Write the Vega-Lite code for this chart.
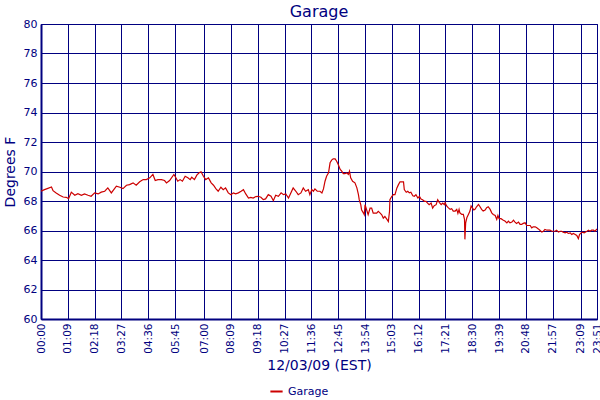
{
  "$schema": "https://vega.github.io/schema/vega-lite/v6.json",
  "autosize": "none",
  "padding": {"left": 41, "top": 24, "right": 3, "bottom": 81},
  "width": 556,
  "height": 295,
  "title": {"text": "Garage", "fontSize": 16, "font": "DejaVu Sans", "fontWeight": "normal", "color": "#000080", "offset": -2},
  "data": {"values": [
    {"m":0,"t":68.66},{"m":9,"t":68.77},{"m":16,"t":68.84},{"m":27,"t":68.95},{"m":31,"t":68.7},{"m":39,"t":68.55},{"m":48,"t":68.39},{"m":57,"t":68.27},{"m":65,"t":68.25},{"m":71,"t":68.16},{"m":78,"t":68.6},{"m":87,"t":68.39},{"m":95,"t":68.5},{"m":104,"t":68.39},{"m":112,"t":68.48},{"m":121,"t":68.39},{"m":129,"t":68.32},{"m":138,"t":68.55},{"m":147,"t":68.48},{"m":155,"t":68.6},{"m":164,"t":68.66},{"m":172,"t":68.89},{"m":181,"t":68.55},{"m":194,"t":69.0},{"m":203,"t":68.93},{"m":211,"t":68.84},{"m":220,"t":69.07},{"m":228,"t":69.11},{"m":237,"t":69.23},{"m":245,"t":69.07},{"m":254,"t":69.3},{"m":263,"t":69.45},{"m":271,"t":69.45},{"m":280,"t":69.57},{"m":288,"t":69.8},{"m":294,"t":69.39},{"m":301,"t":69.45},{"m":310,"t":69.45},{"m":318,"t":69.39},{"m":323,"t":69.23},{"m":331,"t":69.39},{"m":342,"t":69.8},
    {"m":345,"t":69.68},{"m":352,"t":69.34},{"m":358,"t":69.45},{"m":364,"t":69.34},{"m":371,"t":69.68},{"m":378,"t":69.57},{"m":384,"t":69.45},{"m":388,"t":69.61},{"m":395,"t":69.45},{"m":401,"t":69.75},{"m":407,"t":69.91},{"m":412,"t":69.98},{"m":418,"t":69.68},{"m":424,"t":69.45},{"m":431,"t":69.57},{"m":438,"t":69.23},{"m":444,"t":69.07},{"m":450,"t":68.84},{"m":456,"t":68.66},{"m":463,"t":68.93},{"m":469,"t":68.77},{"m":475,"t":68.89},{"m":482,"t":68.55},{"m":489,"t":68.43},{"m":495,"t":68.55},{"m":501,"t":68.48},{"m":508,"t":68.55},{"m":515,"t":68.66},{"m":521,"t":68.77},{"m":527,"t":68.48},{"m":534,"t":68.2},{"m":540,"t":68.25},{"m":546,"t":68.2},{"m":553,"t":68.3},{"m":559,"t":68.32},{"m":566,"t":68.25},{"m":572,"t":68.09},{"m":578,"t":68.14},{"m":585,"t":68.43},{"m":592,"t":68.32},{"m":598,"t":68.02},{"m":604,"t":68.39},{"m":611,"t":68.32},{"m":618,"t":68.55},{"m":624,"t":68.43},{"m":630,"t":68.48},{"m":637,"t":68.2},{"m":643,"t":68.55},{"m":649,"t":68.89},{"m":656,"t":68.66},{"m":662,"t":68.43},{"m":669,"t":68.55},{"m":675,"t":68.89},{"m":681,"t":68.66},{"m":688,"t":68.77},
    {"m":692,"t":68.43},{"m":697,"t":68.77},{"m":701,"t":68.66},{"m":705,"t":68.82},{"m":711,"t":68.66},{"m":718,"t":68.66},{"m":723,"t":68.55},{"m":727,"t":68.82},{"m":731,"t":69.34},{"m":735,"t":69.68},{"m":740,"t":69.91},{"m":744,"t":70.59},{"m":748,"t":70.77},{"m":752,"t":70.86},{"m":757,"t":70.86},{"m":761,"t":70.7},{"m":765,"t":70.48},{"m":770,"t":70.14},{"m":774,"t":70.02},{"m":778,"t":69.86},{"m":782,"t":69.86},{"m":787,"t":69.91},{"m":791,"t":69.8},{"m":794,"t":70.02},{"m":797,"t":69.57},{"m":802,"t":69.34},{"m":808,"t":69.23},{"m":813,"t":68.89},{"m":817,"t":68.43},{"m":819,"t":68.09},{"m":823,"t":67.75},{"m":825,"t":67.41},{"m":830,"t":67.18},{"m":832,"t":67.07},{"m":834,"t":67.75},{"m":838,"t":67.41},{"m":842,"t":67.07},{"m":847,"t":67.52},{"m":851,"t":67.52},{"m":855,"t":67.18},{"m":860,"t":67.18},{"m":864,"t":67.18},{"m":868,"t":67.3},{"m":873,"t":67.18},{"m":877,"t":67.07},{"m":881,"t":66.84},{"m":885,"t":66.95},{"m":890,"t":66.77},{"m":894,"t":66.61},{"m":897,"t":67.3},{"m":898,"t":68.09},{"m":903,"t":68.32},{"m":907,"t":68.43},{"m":911,"t":68.43},{"m":916,"t":68.89},{"m":920,"t":69.11},{"m":924,"t":69.3},{"m":928,"t":69.3},{"m":933,"t":69.3},{"m":935,"t":68.77},{"m":940,"t":68.59},{"m":944,"t":68.66},{"m":948,"t":68.55},{"m":952,"t":68.59},{"m":957,"t":68.36},{"m":961,"t":68.32},{"m":965,"t":68.43},{"m":970,"t":68.2},{"m":974,"t":68.32},{"m":978,"t":68.14},{"m":982,"t":68.09},{"m":987,"t":67.98},{"m":991,"t":67.98},{"m":995,"t":67.86},{"m":999,"t":67.75},{"m":1004,"t":67.86},{"m":1008,"t":67.52},{"m":1012,"t":67.68},{"m":1017,"t":67.75},{"m":1021,"t":68.09},{"m":1025,"t":67.91},{"m":1030,"t":67.75},{"m":1034,"t":67.86},{"m":1038,"t":67.75},
    {"m":1040,"t":67.89},{"m":1044,"t":67.66},{"m":1048,"t":67.55},{"m":1053,"t":67.43},{"m":1057,"t":67.48},{"m":1061,"t":67.32},{"m":1066,"t":67.32},{"m":1070,"t":67.43},{"m":1073,"t":67.16},{"m":1076,"t":67.43},{"m":1078,"t":67.2},{"m":1083,"t":67.09},{"m":1087,"t":67.09},{"m":1090,"t":66.75},{"m":1091,"t":65.4},{"m":1093,"t":66.52},{"m":1096,"t":66.86},{"m":1100,"t":67.09},{"m":1104,"t":67.32},{"m":1107,"t":67.66},{"m":1110,"t":67.55},{"m":1114,"t":67.39},{"m":1117,"t":67.43},{"m":1121,"t":67.61},{"m":1126,"t":67.77},{"m":1130,"t":67.61},{"m":1134,"t":67.43},{"m":1138,"t":67.32},{"m":1143,"t":67.39},{"m":1147,"t":67.55},{"m":1151,"t":67.61},{"m":1156,"t":67.43},{"m":1160,"t":67.2},{"m":1164,"t":67.09},{"m":1169,"t":67.02},{"m":1173,"t":66.75},{"m":1176,"t":67.02},{"m":1179,"t":66.8},{"m":1184,"t":66.8},{"m":1190,"t":66.7},{"m":1194,"t":66.64},{"m":1199,"t":66.52},{"m":1203,"t":66.64},{"m":1207,"t":66.52},{"m":1212,"t":66.57},{"m":1216,"t":66.7},{"m":1220,"t":66.57},{"m":1224,"t":66.48},{"m":1229,"t":66.57},{"m":1233,"t":66.41},{"m":1237,"t":66.41},{"m":1241,"t":66.48},{"m":1246,"t":66.52},{"m":1250,"t":66.34},{"m":1254,"t":66.34},{"m":1259,"t":66.34},{"m":1263,"t":66.18},{"m":1267,"t":66.25},{"m":1272,"t":66.25},{"m":1276,"t":66.18},{"m":1280,"t":66.11},{"m":1284,"t":66.02},{"m":1289,"t":65.89},{"m":1293,"t":65.95},{"m":1297,"t":66.07},{"m":1302,"t":66.02},{"m":1306,"t":66.02},{"m":1310,"t":66.02},{"m":1315,"t":65.95},{"m":1319,"t":65.95},{"m":1323,"t":65.95},{"m":1327,"t":66.02},{"m":1332,"t":65.89},{"m":1336,"t":65.95},{"m":1340,"t":65.95},{"m":1344,"t":65.89},{"m":1349,"t":65.84},{"m":1353,"t":65.89},{"m":1357,"t":65.8},{"m":1362,"t":65.84},{"m":1366,"t":65.73},{"m":1370,"t":65.8},{"m":1375,"t":65.73},{"m":1379,"t":65.66},{"m":1383,"t":65.45},{"m":1386,"t":65.73},{"m":1390,"t":65.84},{"m":1393,"t":65.89},{"m":1398,"t":65.84},{"m":1405,"t":65.95},{"m":1409,"t":66.02},{"m":1413,"t":65.95},{"m":1417,"t":66.02},{"m":1422,"t":66.02},{"m":1426,"t":65.95},{"m":1431,"t":66.11}
  ]},
  "mark": {"type": "line", "strokeWidth": 1.2, "clip": true},
  "encoding": {
    "x": {
      "field": "m",
      "type": "quantitative",
      "scale": {"domain": [0, 1431], "nice": false, "zero": false},
      "axis": {
        "values": [0, 69, 138, 207, 276, 345, 420, 489, 558, 627, 696, 765, 834, 903, 972, 1041, 1110, 1179, 1248, 1317, 1389, 1431],
        "labelExpr": "pad(floor(datum.value / 60) + '', 2, '0', 'left') + ':' + pad((datum.value % 60) + '', 2, '0', 'left')",
        "labelAngle": -90,
        "labelFontSize": 10.5,
        "labelPadding": 4,
        "labelOverlap": false,
        "labelFlush": false,
        "title": "12/03/09 (EST)",
        "titleFontSize": 14,
        "titlePadding": 5
      }
    },
    "y": {
      "field": "t",
      "type": "quantitative",
      "scale": {"domain": [60, 80], "nice": false, "zero": false},
      "axis": {
        "values": [60, 62, 64, 66, 68, 70, 72, 74, 76, 78, 80],
        "labelFontSize": 11,
        "labelPadding": 4,
        "title": "Degrees F",
        "titleFontSize": 14,
        "titlePadding": 6
      }
    },
    "color": {
      "datum": "Garage",
      "scale": {"range": ["#cc0000"]},
      "legend": {
        "orient": "none",
        "legendX": 228,
        "legendY": 360,
        "direction": "horizontal",
        "title": null,
        "symbolType": "stroke",
        "symbolStrokeWidth": 2,
        "symbolSize": 150,
        "labelFontSize": 11,
        "labelColor": "#000080",
        "labelFont": "DejaVu Sans"
      }
    }
  },
  "config": {
    "view": {"stroke": "#000080", "strokeWidth": 1},
    "axis": {
      "domainColor": "#000080",
      "domainWidth": 2,
      "grid": true,
      "gridColor": "#000080",
      "gridWidth": 1,
      "gridOpacity": 1,
      "ticks": false,
      "labelColor": "#000080",
      "titleColor": "#000080",
      "labelFont": "DejaVu Sans",
      "titleFont": "DejaVu Sans",
      "titleFontWeight": "normal"
    }
  }
}
